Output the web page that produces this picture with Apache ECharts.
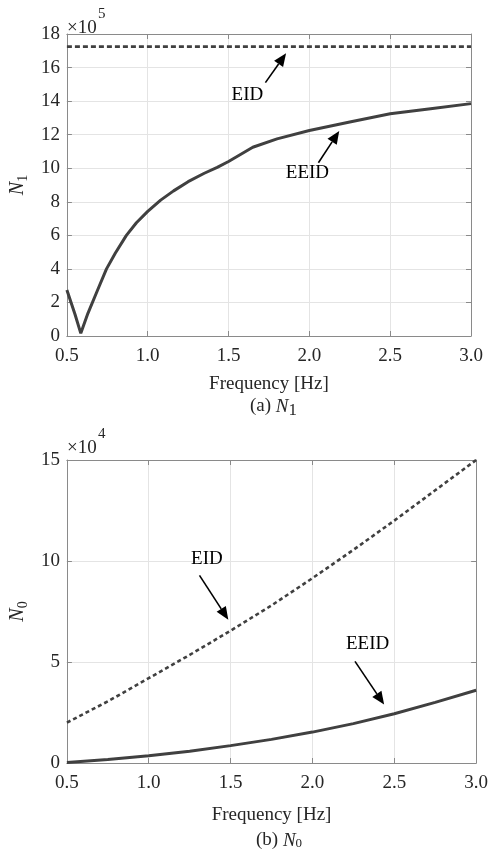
<!DOCTYPE html>
<html>
<head>
<meta charset="utf-8">
<script src="https://cdn.jsdelivr.net/npm/echarts@6/dist/echarts.min.js"></script>
<style>
html,body{margin:0;padding:0;background:#fff;}
#c{width:491px;height:849px;}
</style>
</head>
<body>
<div id="c"></div>
<script>
// ---- data (panel a: N1, x10^5) ----
const freqN1 = [0.5,0.55,0.586,0.63,0.69,0.745,0.8,0.868,0.93,1.0,1.08,1.16,1.25,1.35,1.43,1.5,1.65,1.8,2.0,2.25,2.5,2.75,3.0];
const eeidN1 = [2.74,1.3,0.16,1.35,2.74,4.0,4.95,6.0,6.75,7.43,8.1,8.65,9.2,9.7,10.05,10.4,11.25,11.75,12.25,12.75,13.25,13.55,13.85];
const freqEidN1 = [0.5,3.0];
const eidN1 = [17.25,17.25];
// ---- data (panel b: N0, x10^4) ----
const freqN0 = [0.5,0.75,1.0,1.25,1.5,1.75,2.0,2.25,2.5,2.75,3.0];
const eidN0  = [2.0,3.05,4.2,5.35,6.55,7.8,9.15,10.55,12.0,13.5,15.0];
const eeidN0 = [0.03,0.17,0.36,0.58,0.86,1.17,1.53,1.95,2.44,3.0,3.6];
// ---- tick labels ----
const xTicks = [0.5,1.0,1.5,2.0,2.5,3.0];
const yTicksN1 = [0,2,4,6,8,10,12,14,16,18];
const yTicksN0 = [0,5,10,15];
// ---- annotations (text anchor, arrow start, arrow tip in data units) ----
const annotN1 = [
  {text:'EID',  at:[1.617,14.36], from:[1.728,15.1], to:[1.856,16.85]},
  {text:'EEID', at:[1.988,9.71],  from:[2.056,10.33], to:[2.185,12.22]}
];
const annotN0 = [
  {text:'EID',  at:[1.355,10.11], from:[1.31,9.29], to:[1.486,7.09]},
  {text:'EEID', at:[2.337,5.9],   from:[2.26,5.03], to:[2.438,2.89]}
];

const FONT = 'Liberation Serif';
const TXT = '#262626';
const BOX = '#8a8a8a';
const GRIDC = '#e4e4e4';
const LINE = '#404040';

const zip = (a,b) => a.map((v,i)=>[v,b[i]]);

function xAx(gi, pos, labels){
  return {
    type:'value', gridIndex:gi, position:pos, min:0.5, max:3.0, interval:0.5,
    axisLine:{show:true, onZero:false, lineStyle:{color:BOX, width:1}},
    axisTick:{show:true, inside:true, length:5, lineStyle:{color:BOX}},
    axisLabel:{show:labels, margin:11, color:TXT, fontFamily:FONT, fontSize:19,
      formatter:v=>v.toFixed(1)},
    splitLine:{show:labels, lineStyle:{color:GRIDC, width:1}},
    name: labels ? 'Frequency [Hz]' : '',
    nameLocation:'middle', nameGap: labels ? (gi===0?39:43) : 0,
    nameTextStyle:{color:TXT, fontFamily:FONT, fontSize:19}
  };
}
function yAx(gi, pos, labels, max, interval, sub){
  return {
    type:'value', gridIndex:gi, position:pos, min:0, max:max, interval:interval,
    axisLine:{show:true, onZero:false, lineStyle:{color:BOX, width:1}},
    axisTick:{show:true, inside:true, length:5, lineStyle:{color:BOX}},
    axisLabel:{show:labels, margin:7, color:TXT, fontFamily:FONT, fontSize:19},
    splitLine:{show:labels, lineStyle:{color:GRIDC, width:1}},
    name: labels ? '{i|N}{s|'+sub+'}' : '',
    nameLocation:'middle', nameRotate:90, nameGap:36,
    nameTextStyle:{color:TXT, fontFamily:FONT, fontSize:20,
      rich:{i:{fontStyle:'italic', fontSize:20, fontFamily:FONT, color:TXT},
            s:{fontSize:14, fontFamily:FONT, color:TXT, padding:[10,0,0,0]}}}
  };
}

function annSeries(ann, xi, yi){
  return {
    type:'line', xAxisIndex:xi, yAxisIndex:yi, data:[], silent:true,
    markPoint:{
      silent:true, symbol:'circle', symbolSize:0,
      label:{show:true, position:'inside', color:'#000', fontFamily:FONT, fontSize:19,
        formatter:p=>p.name},
      data: ann.map(a=>({name:a.text, coord:a.at}))
    }
  };
}

const chart = echarts.init(document.getElementById('c'), null, {renderer:'canvas'});
chart.setOption({
  animation:false,
  backgroundColor:'#fff',
  grid:[
    {left:66, top:34, width:405, height:302},
    {left:66, top:460, width:411, height:303}
  ],
  xAxis:[ xAx(0,'bottom',true), xAx(0,'top',false), xAx(1,'bottom',true), xAx(1,'top',false) ],
  yAxis:[ yAx(0,'left',true,18,2,'1'), yAx(0,'right',false,18,2,'1'),
          yAx(1,'left',true,15,5,'0'), yAx(1,'right',false,15,5,'0') ],
  series:[
    {type:'line', xAxisIndex:0, yAxisIndex:0, data:zip(freqEidN1,eidN1), showSymbol:false,
      lineStyle:{color:LINE, width:2.6, type:[5,3]}},
    {type:'line', xAxisIndex:0, yAxisIndex:0, data:zip(freqN1,eeidN1), showSymbol:false,
      lineStyle:{color:LINE, width:3}},
    {type:'line', xAxisIndex:2, yAxisIndex:2, data:zip(freqN0,eidN0), showSymbol:false,
      lineStyle:{color:LINE, width:2.6, type:[4,3]}},
    {type:'line', xAxisIndex:2, yAxisIndex:2, data:zip(freqN0,eeidN0), showSymbol:false,
      lineStyle:{color:LINE, width:3}},
    annSeries(annotN1,0,0),
    annSeries(annotN0,2,2)
  ]
});

// arrows: converted from data coordinates through the axes
function arrowEls(ann, xi, yi){
  const els = [];
  ann.forEach(a=>{
    const p0 = chart.convertToPixel({xAxisIndex:xi, yAxisIndex:yi}, a.from);
    const p1 = chart.convertToPixel({xAxisIndex:xi, yAxisIndex:yi}, a.to);
    const dx = p1[0]-p0[0], dy = p1[1]-p0[1];
    const L = Math.hypot(dx,dy), ux = dx/L, uy = dy/L;
    const hl = 13, hw = 5.5;
    const bx = p1[0]-ux*hl, by = p1[1]-uy*hl;
    els.push({type:'line', silent:true, shape:{x1:p0[0],y1:p0[1],x2:bx,y2:by},
      style:{stroke:'#000', lineWidth:1.6}});
    els.push({type:'polygon', silent:true, shape:{points:[
      [p1[0],p1[1]], [bx-uy*hw, by+ux*hw], [bx+uy*hw, by-ux*hw]]},
      style:{fill:'#000'}});
  });
  return els;
}

chart.setOption({
  graphic:[
    ...arrowEls(annotN1,0,0),
    ...arrowEls(annotN0,2,2),
    {type:'text', left:67, top:19, style:{text:'×10', fill:TXT, font:'19px "Liberation Serif"'}},
    {type:'text', left:98, top:7, style:{text:'5', fill:TXT, font:'15px "Liberation Serif"'}},
    {type:'text', left:67, top:439, style:{text:'×10', fill:TXT, font:'19px "Liberation Serif"'}},
    {type:'text', left:98, top:427, style:{text:'4', fill:TXT, font:'15px "Liberation Serif"'}},
    {type:'text', left:250, top:397, style:{text:'{a|(a) }{i|N}{s|1}', fill:TXT,
      rich:{a:{fontSize:19,fontFamily:FONT,fill:TXT}, i:{fontSize:19,fontFamily:FONT,fontStyle:'italic',fill:TXT},
            s:{fontSize:17,fontFamily:FONT,fill:TXT,padding:[8,0,0,0]}}}},
    {type:'text', left:256, top:831, style:{text:'{a|(b) }{i|N}{s|0}', fill:TXT,
      rich:{a:{fontSize:19,fontFamily:FONT,fill:TXT}, i:{fontSize:19,fontFamily:FONT,fontStyle:'italic',fill:TXT},
            s:{fontSize:13,fontFamily:FONT,fill:TXT,padding:[6,0,0,0]}}}}
  ]
});
</script>
</body>
</html>
